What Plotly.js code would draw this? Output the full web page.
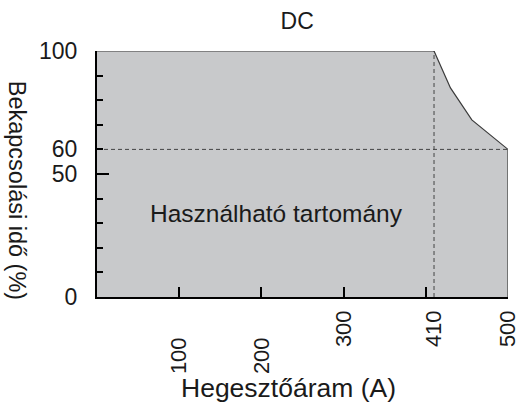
<!DOCTYPE html>
<html>
<head>
<meta charset="utf-8">
<script src="https://cdn.plot.ly/plotly-3.0.1.min.js"></script>
<style>html,body{margin:0;padding:0;background:#fff;}#chart{width:516px;height:417px;}</style>
</head>
<body>
<div id="chart"></div>
<script>
// Boundary of the usable range (current A vs duty cycle %)
const currentA = [0, 0, 410, 430, 456, 500, 500];
const dutyPct = [0, 100, 100, 85, 72, 60, 0];
// Reference lines
const refCurrent = 410;
const refDuty = 60;
// Axis ticks / labels
const xTickMarks = [100, 200, 300, 400];
const xLabelsUpper = [300, 410, 500];
const xLabelsLower = [100, 200];
const yTickLabels = [0, 50, 60, 100];
const yMinorTicks = [10, 20, 30, 40, 60, 70, 80, 90];
const yMajorTicks = [50, 100];

const font = 'Liberation Sans, Arial, sans-serif';
const txt = '#1a1a1a';

const traces = [
  { x: currentA, y: dutyPct, type: 'scatter', mode: 'none', fill: 'toself',
    fillcolor: '#c8c9cb', hoverinfo: 'skip', showlegend: false },
  { x: currentA.slice(1), y: dutyPct.slice(1), type: 'scatter', mode: 'lines',
    line: { color: '#3a3a3a', width: 1.2 }, hoverinfo: 'skip', showlegend: false },
  { x: [0, currentA[currentA.length - 1]], y: [refDuty, refDuty], type: 'scatter', mode: 'lines',
    xaxis: 'x2', line: { color: '#444', width: 1, dash: '4px,3px' }, showlegend: false },
  { x: [refCurrent, refCurrent], y: [0, 100], type: 'scatter', mode: 'lines',
    xaxis: 'x3', yaxis: 'y2', line: { color: '#444', width: 1, dash: '4px,3px' }, showlegend: false }
];

const baseX = { range: [0, 500], showgrid: false, zeroline: false, fixedrange: true };
const layout = {
  width: 516, height: 417,
  margin: { l: 97, r: 8, t: 51, b: 120 },
  paper_bgcolor: '#fff', plot_bgcolor: 'rgba(0,0,0,0)',
  font: { family: font, color: txt, size: 20 },
  showlegend: false,
  title: { text: 'DC', x: 0.487, xref: 'paper', xanchor: 'center', y: 0.95, yref: 'container',
    yanchor: 'middle', font: { family: font, size: 23, color: txt } },
  xaxis: Object.assign({}, baseX, {
    tickvals: xTickMarks, showticklabels: false, ticks: 'inside', ticklen: 10, tickwidth: 2,
    tickcolor: '#000', showline: true, linewidth: 2, linecolor: '#000'
  }),
  xaxis2: Object.assign({}, baseX, {
    overlaying: 'x', matches: 'x', tickvals: xLabelsUpper, ticktext: xLabelsUpper.map(String),
    ticks: '', tickangle: -90, ticklabelstandoff: 8, ticklabeloverflow: 'allow', showline: false,
    tickfont: { family: font, size: 22, color: txt }
  }),
  xaxis3: Object.assign({}, baseX, {
    overlaying: 'x', matches: 'x', tickvals: xLabelsLower, ticktext: xLabelsLower.map(String),
    ticks: '', tickangle: -90, ticklabelstandoff: 35, ticklabeloverflow: 'allow', showline: false,
    tickfont: { family: font, size: 22, color: txt }
  }),
  yaxis: {
    range: [0, 100], showgrid: false, zeroline: false, fixedrange: true,
    tickvals: yTickLabels, ticktext: yTickLabels.map(String), ticks: '',
    ticklabelstandoff: 13,
    showline: true, linewidth: 2, linecolor: '#000',
    tickfont: { family: font, size: 23, color: txt },
    minor: { tickvals: yMinorTicks, ticks: 'inside', ticklen: 6, tickwidth: 2, tickcolor: '#000' }
  },
  yaxis2: {
    range: [0, 100], matches: 'y', overlaying: 'y', side: 'left', showgrid: false, zeroline: false,
    tickvals: yMajorTicks, showticklabels: false, ticks: 'inside', ticklen: 12, tickwidth: 2,
    tickcolor: '#000', showline: false, fixedrange: true
  },
  annotations: [
    { text: 'Használható tartomány', x: 218, y: 34, xref: 'x', yref: 'y', showarrow: false,
      xanchor: 'center', yanchor: 'middle', font: { family: font, size: 24.5, color: txt } },
    { text: 'Hegesztőáram (A)', x: 0.465, y: -0.37, xref: 'paper', yref: 'paper', showarrow: false,
      xanchor: 'center', yanchor: 'middle', font: { family: font, size: 26.5, color: txt } },
    { text: 'Bekapcsolási idő (%)', x: -0.194, y: 0.435, xref: 'paper', yref: 'paper', showarrow: false,
      textangle: 90, xanchor: 'center', yanchor: 'middle', font: { family: font, size: 23.5, color: txt } }
  ]
};

Plotly.newPlot('chart', traces, layout, { displayModeBar: false, staticPlot: true });
</script>
</body>
</html>
